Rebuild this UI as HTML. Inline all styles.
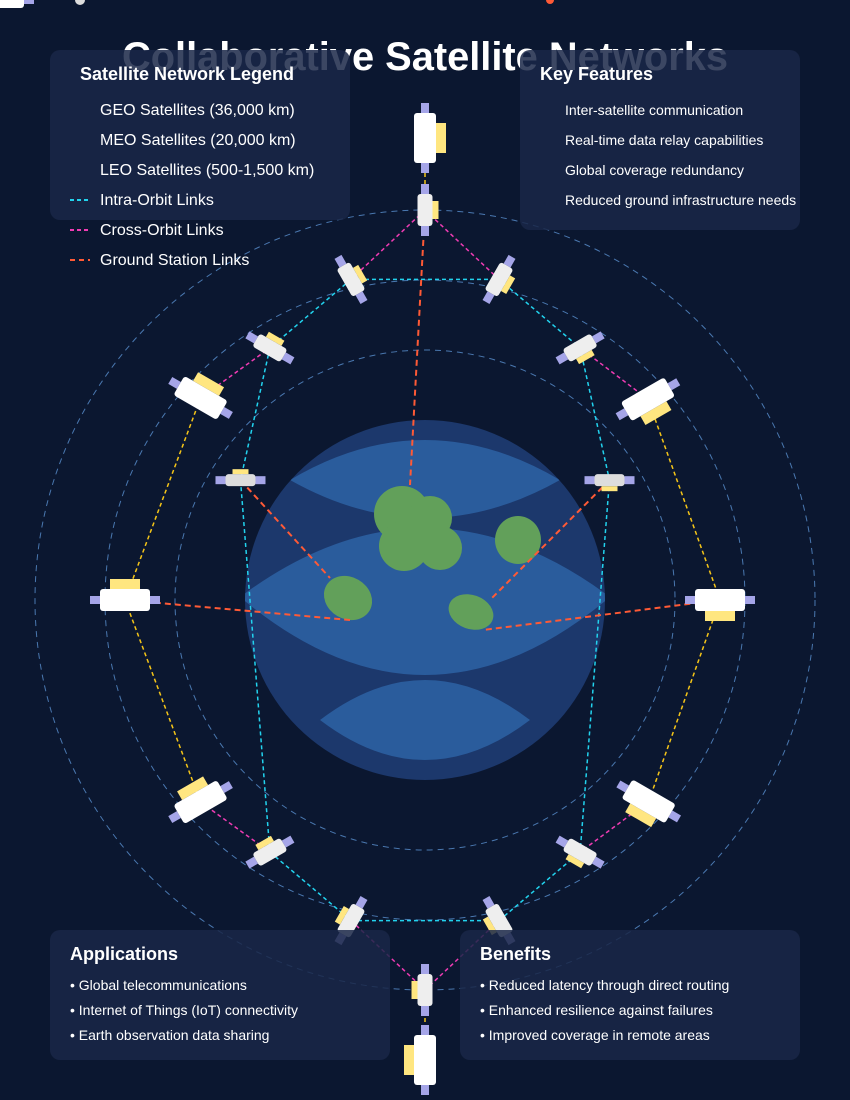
<!DOCTYPE html>
<html><head><meta charset="utf-8"><style>
html,body{margin:0;padding:0;background:#0b1730;}
svg{display:block;font-family:"Liberation Sans",sans-serif;}
</style></head><body>
<svg id="chart" width="850" height="1100" viewBox="0 0 850 1100">
<rect width="850" height="1100" fill="#0b1730"/>
<g>
<rect x="-10" y="-8" width="34" height="16" rx="3" fill="#fff"/><rect x="24" y="0" width="10" height="4" fill="#a5a5e8"/>
<circle cx="80" cy="0" r="5" fill="#ddd"/><circle cx="550" cy="0" r="4" fill="#ff5a36"/>
</g>
<text x="425" y="70" text-anchor="middle" font-size="40" font-weight="bold" fill="#fff" textLength="606" lengthAdjust="spacingAndGlyphs">Collaborative Satellite Networks</text>
<g id="orbits"></g>
<g>
<defs><clipPath id="ec"><circle cx="425" cy="600" r="180"/></clipPath></defs>
<circle cx="425" cy="600" r="180" fill="#1c386c"/>
<g clip-path="url(#ec)" fill="#2a5c9c">
<path d="M290,480 Q425,400 560,480 Q425,556 290,480Z"/>
<path d="M240,597 Q425,459 610,597 Q425,753 240,597Z"/>
<path d="M320,720 Q425,640 530,720 Q425,800 320,720Z"/>
</g>
<g fill="#62a05a">
<g><circle cx="402" cy="514" r="28"/><circle cx="430" cy="518" r="22"/><circle cx="404" cy="546" r="25"/><circle cx="440" cy="548" r="22"/><circle cx="420" cy="530" r="25"/></g>
<ellipse cx="518" cy="540" rx="23" ry="24"/>
<ellipse cx="348" cy="598" rx="25" ry="21" transform="rotate(30 348 598)"/>
<ellipse cx="471" cy="612" rx="23" ry="17" transform="rotate(20 471 612)"/>
</g>
</g>
<g id="links"></g>
<g id="sats"></g>

<g>
<rect x="50" y="50" width="300" height="170" rx="10" fill="#1a2748" fill-opacity="0.85"/>
<text x="80" y="80" font-size="18" font-weight="bold" fill="#fff">Satellite Network Legend</text>
<g font-size="16" fill="#fff">
<text x="100" y="115">GEO Satellites (36,000 km)</text>
<text x="100" y="145">MEO Satellites (20,000 km)</text>
<text x="100" y="175">LEO Satellites (500-1,500 km)</text>
<text x="100" y="205">Intra-Orbit Links</text>
<text x="100" y="235">Cross-Orbit Links</text>
<text x="100" y="265">Ground Station Links</text>
</g>
<line x1="70" y1="200" x2="90" y2="200" stroke="#22d3ee" stroke-width="2" stroke-dasharray="4,3"/>
<line x1="70" y1="230" x2="90" y2="230" stroke="#f03cb4" stroke-width="2" stroke-dasharray="4,3"/>
<line x1="70" y1="260" x2="90" y2="260" stroke="#ff5a36" stroke-width="2" stroke-dasharray="5,4"/>
</g>
<g>
<rect x="520" y="50" width="280" height="180" rx="10" fill="#1a2748" fill-opacity="0.85"/>
<text x="540" y="80" font-size="18" font-weight="bold" fill="#fff">Key Features</text>
<g font-size="14" fill="#fff">
<text x="565" y="115">Inter-satellite communication</text>
<text x="565" y="145">Real-time data relay capabilities</text>
<text x="565" y="175">Global coverage redundancy</text>
<text x="565" y="205">Reduced ground infrastructure needs</text>
</g>
</g>
<g>
<rect x="50" y="930" width="340" height="130" rx="10" fill="#1a2748" fill-opacity="0.85"/>
<text x="70" y="960" font-size="18" font-weight="bold" fill="#fff">Applications</text>
<g font-size="14" fill="#fff">
<text x="70" y="990">• Global telecommunications</text>
<text x="70" y="1015">• Internet of Things (IoT) connectivity</text>
<text x="70" y="1040">• Earth observation data sharing</text>
</g>
</g>
<g>
<rect x="460" y="930" width="340" height="130" rx="10" fill="#1a2748" fill-opacity="0.85"/>
<text x="480" y="960" font-size="18" font-weight="bold" fill="#fff">Benefits</text>
<g font-size="14" fill="#fff">
<text x="480" y="990">• Reduced latency through direct routing</text>
<text x="480" y="1015">• Enhanced resilience against failures</text>
<text x="480" y="1040">• Improved coverage in remote areas</text>
</g>
</g>
</svg>
<script>
const orbitRadii = [250, 320, 390];
const satRadius = [462,302,300,300,295,302,301,460,390,329,329,296,296,296,296,329,329,390,220,220];
const satAngle = [-90,-138,-42,180,0,138,42,90,-90,-103,-77,-121.6,-58.4,121.6,58.4,103,77,90,-147,-33];
const satType = ["L","L","L","L","L","L","L","L","M","M","M","M","M","M","M","M","M","M","S","S"];
const intraLinks = [[9,10],[9,11],[10,12],[11,18],[18,13],[12,19],[19,14],[13,15],[15,16],[16,14]];
const crossLinks = [[8,9],[8,10],[1,11],[2,12],[5,13],[6,14],[15,17],[16,17]];
const geoLinks = [[0,8],[1,3],[3,5],[2,4],[4,6],[17,7]];
const groundSat = [8,18,3,19,4];
const groundX = [-15,-95,-75,65,58];
const groundY = [-115,-22,20,0,30];

const NS='http://www.w3.org/2000/svg';
const CX=425, CY=600;
const satRot = [-90,210,-30,180,0,150,30,90,-90,240,-60,210,-30,150,30,120,60,90,180,0];
function px(i){return CX+satRadius[i]*Math.cos(satAngle[i]*Math.PI/180);}
function py(i){return CY+satRadius[i]*Math.sin(satAngle[i]*Math.PI/180);}
function mk(tag,attrs,parent){const e=document.createElementNS(NS,tag);for(const k in attrs)e.setAttribute(k,attrs[k]);parent.appendChild(e);return e;}

const og=document.getElementById('orbits');
orbitRadii.forEach(r=>{
  const c=mk('circle',{cx:CX,cy:CY,r:r,fill:'none',stroke:'#4a78b0','stroke-width':1,'stroke-dasharray':'6,5'},og);
  
  
});

const lg=document.getElementById('links');
function drawLinks(list,color,name){
  list.forEach(p=>{
    const l=mk('line',{x1:px(p[0]),y1:py(p[0]),x2:px(p[1]),y2:py(p[1]),stroke:color,'stroke-width':1.5,'stroke-dasharray':'4,3'},lg);
    
    
  });
}
drawLinks(geoLinks,'#f5c518','geo-link');
drawLinks(intraLinks,'#22d3ee','intra-orbit-link');
drawLinks(crossLinks,'#f03cb4','cross-orbit-link');
groundSat.forEach((s,k)=>{
  const l=mk('line',{x1:px(s),y1:py(s),x2:CX+groundX[k],y2:CY+groundY[k],stroke:'#ff5a36','stroke-width':2,'stroke-dasharray':'6,4'},lg);
  
  
});

const sg=document.getElementById('sats');
const dims={L:{w:50,h:22,pw:30,ph:10,fill:'#ffffff'},M:{w:32,h:15,pw:18,ph:6,fill:'#eeeeee'},S:{w:30,h:12,pw:16,ph:5,fill:'#dddddd'}};
satType.forEach((t,i)=>{
  const d=dims[t];
  const g=mk('g',{transform:'translate('+px(i)+','+py(i)+') rotate('+satRot[i]+')'},sg);
  
  
  mk('rect',{x:-d.pw/2,y:d.h/2,width:d.pw,height:d.ph,fill:'#ffe680'},g);
  mk('rect',{x:-d.w/2-10,y:-4,width:10,height:8,fill:'#a5a5e8'},g);
  mk('rect',{x:d.w/2,y:-4,width:10,height:8,fill:'#a5a5e8'},g);
  mk('rect',{x:-d.w/2,y:-d.h/2,width:d.w,height:d.h,rx:3,fill:d.fill},g);
});
</script>
</body></html>
